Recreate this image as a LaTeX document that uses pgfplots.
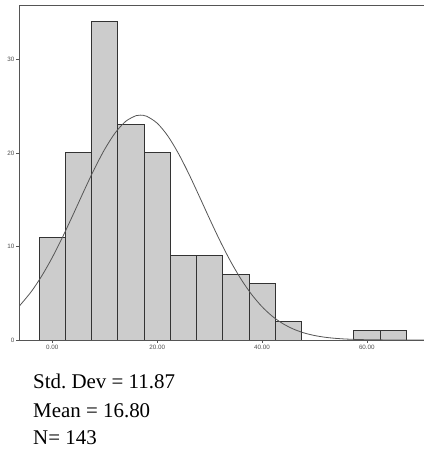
\documentclass[border=0pt]{standalone}
\usepackage{pgfplots}
\pgfplotsset{compat=1.18}
\usepackage{fontspec}
\setmainfont{Liberation Serif}
\setsansfont{Liberation Sans}
\definecolor{barfill}{HTML}{CCCCCC}
\definecolor{baredge}{HTML}{333333}
\definecolor{curvecol}{HTML}{555555}
\definecolor{axcol}{HTML}{555555}
\begin{document}
\begin{tikzpicture}
\useasboundingbox (0,0) rectangle (424bp,453bp);
\begin{axis}[
  at={(19.5bp,113bp)}, anchor=south west,
  scale only axis, width=404.5bp, height=335bp,
  xmin=-6.26, xmax=70.9, ymin=0, ymax=35.8,
  axis x line*=box, axis y line*=left,
  axis line style={axcol, line width=0.8bp},
  xtick={0,20,40,60}, xticklabels={0.00,20.00,40.00,60.00},
  ytick={0,10,20,30}, yticklabels={0,10,20,30},
  xtick pos=bottom, ytick pos=left,
  tick align=outside, major tick length=3bp,
  tick style={axcol, line width=0.6bp},
  tick label style={font=\sffamily\fontsize{6.3}{7}\selectfont, text=black!70},
  xticklabel style={yshift=1bp},
  yticklabel style={xshift=1.5bp},
]
\addplot[ybar interval, fill=barfill, draw=baredge, line width=0.8bp] coordinates {
  (-2.5,11) (2.5,20) (7.5,34) (12.5,23) (17.5,20) (22.5,9) (27.5,9) (32.5,7) (37.5,6) (42.5,2) (47.5,2)
};
\addplot[ybar interval, fill=barfill, draw=baredge, line width=0.8bp] coordinates {
  (57.5,1) (62.5,1) (67.5,1)
};
\addplot[curvecol, line width=0.8bp, smooth, no marks] coordinates {
  (-6.3,3.62) (-4,5.18) (-2,6.86) (0,8.83) (2,11.05) (4,13.44) (6,15.89) (8,18.26)
  (10,20.39) (12,22.14) (14,23.37) (16,23.98) (16.8,24.03) (18,23.91) (20,23.17)
  (22,21.83) (24,19.99) (26,17.80) (28,15.40) (30,12.95) (32,10.58) (34,8.41)
  (36,6.50) (38,4.88) (40,3.56) (42,2.52) (44,1.74) (46,1.166) (48,0.759)
  (50,0.481) (52,0.296) (54,0.177) (56,0.103) (58,0.058) (60,0.03) (62,0.015)
  (64,0.007) (66,0.003) (68,0.001) (70.9,0.0)
};
\end{axis}
\node[anchor=base west, inner sep=0pt, font=\fontsize{21}{25}\selectfont] at (33bp,64bp) {Std.\ Dev = 11.87};
\node[anchor=base west, inner sep=0pt, font=\fontsize{21}{25}\selectfont] at (33bp,36bp) {Mean = 16.80};
\node[anchor=base west, inner sep=0pt, font=\fontsize{21}{25}\selectfont] at (33bp,9bp) {N= 143};
\end{tikzpicture}
\end{document}
